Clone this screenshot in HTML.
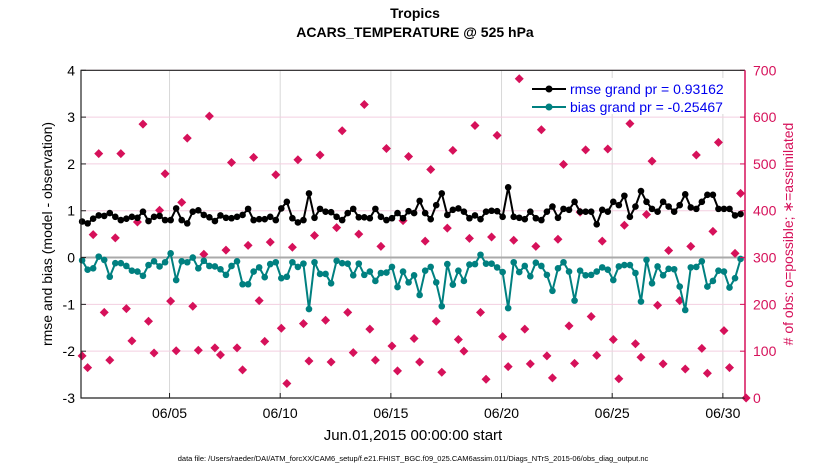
<!DOCTYPE html>
<html><head><meta charset="utf-8">
<style>
body{margin:0;background:#fff;}
svg{display:block;font-family:"Liberation Sans",sans-serif;}
</style></head>
<body>
<svg id="chart" width="830" height="470" viewBox="0 0 830 470" xmlns="http://www.w3.org/2000/svg">
<rect width="830" height="470" fill="#fff"/>
<text x="415" y="18" font-size="14" font-weight="bold" text-anchor="middle">Tropics</text>
<text x="415" y="37" font-size="14" font-weight="bold" text-anchor="middle">ACARS_TEMPERATURE @ 525 hPa</text>
<g id="grid"></g>
<g id="marks"></g>
<g id="axes"></g>
<text transform="translate(52,234) rotate(-90)" font-size="14" text-anchor="middle">rmse and bias (model - observation)</text>
<text transform="translate(793,234) rotate(-90)" font-size="14" text-anchor="middle" fill="#d6115a">#  of obs: o=possible; ∗=assimilated</text>
<text x="413" y="440" font-size="15" text-anchor="middle">Jun.01,2015 00:00:00 start</text>
<text x="413" y="461" font-size="7.5" text-anchor="middle">data file: /Users/raeder/DAI/ATM_forcXX/CAM6_setup/f.e21.FHIST_BGC.f09_025.CAM6assim.011/Diags_NTrS_2015-06/obs_diag_output.nc</text>
<g id="legend">
<rect x="527" y="78" width="216" height="36" fill="#fff"/>
<line x1="532" y1="89" x2="566" y2="89" stroke="#000" stroke-width="2"/>
<circle cx="549" cy="89" r="3.5" fill="#000"/>
<text x="570" y="94" font-size="14" fill="#0000ee">rmse grand pr = 0.93162</text>
<line x1="532" y1="107" x2="566" y2="107" stroke="#008080" stroke-width="2"/>
<circle cx="549" cy="107" r="3.5" fill="#008080"/>
<text x="570" y="112" font-size="14" fill="#0000ee">bias grand pr = -0.25467</text>
</g>
</svg>
<script>
const rmse=[0.77,0.73,0.83,0.90,0.89,0.95,0.87,0.80,0.83,0.87,0.85,0.98,0.78,0.87,0.89,0.80,0.80,1.05,0.80,0.73,0.98,1.01,0.91,0.86,0.78,0.90,0.85,0.84,0.87,0.91,1.04,
0.80,0.82,0.82,0.87,0.80,1.05,1.19,0.84,0.75,0.80,1.37,0.85,1.04,0.98,0.97,0.87,0.80,0.95,1.04,0.86,0.86,0.84,1.04,0.87,0.80,0.84,0.95,0.84,0.99,0.95,
1.21,0.95,0.82,1.12,1.37,0.91,1.02,1.05,0.98,0.84,0.90,0.82,0.98,1.00,0.99,0.87,1.50,0.87,0.85,0.82,0.98,0.84,0.80,0.98,1.09,0.85,1.04,1.02,1.19,0.98,
0.98,0.98,0.71,1.02,0.98,1.19,1.12,1.32,0.87,1.09,1.42,1.19,1.04,0.98,1.19,1.09,0.98,1.12,1.35,1.07,1.04,1.19,1.34,1.34,1.04,1.04,1.04,0.90,0.93];
const bias=[-0.06,-0.26,-0.23,0.02,-0.05,-0.41,-0.12,-0.12,-0.18,-0.28,-0.30,-0.39,-0.16,-0.08,-0.19,-0.10,0.09,-0.48,-0.08,-0.10,0.00,-0.23,-0.07,-0.18,-0.19,-0.25,-0.37,-0.18,-0.08,-0.57,-0.57,
-0.30,-0.21,-0.42,-0.14,-0.10,-0.44,-0.41,-0.10,-0.20,-0.13,-1.10,-0.10,-0.35,-0.35,-0.55,-0.07,-0.12,-0.13,-0.38,-0.13,-0.37,-0.30,-0.50,-0.33,-0.32,-0.20,-0.63,-0.30,-0.53,-0.38,
-0.80,-0.28,-0.20,-0.53,-1.04,-0.14,-0.58,-0.28,-0.50,-0.15,-0.14,0.06,-0.13,-0.13,-0.21,-0.31,-1.08,-0.10,-0.31,-0.18,-0.40,-0.11,-0.18,-0.37,-0.71,-0.23,-0.10,-0.30,-0.92,-0.28,
-0.38,-0.37,-0.30,-0.21,-0.26,-0.48,-0.19,-0.16,-0.16,-0.33,-0.94,-0.05,-0.55,-0.19,-0.38,-0.24,-0.25,-0.62,-1.12,-0.21,-0.20,-0.08,-0.62,-0.50,-0.28,-0.30,-0.64,-0.44,-0.03];
const nobs=[90,65,349,522,183,81,342,522,191,122,376,585,164,96,401,479,207,101,418,555,196,102,307,602,107,92,316,503,107,60,326,
514,208,121,333,477,149,31,322,509,159,79,347,519,166,77,364,571,183,97,350,627,147,81,324,533,111,58,379,516,127,
77,335,488,164,55,363,529,125,100,341,582,183,40,344,561,131,67,337,682,147,73,324,573,90,43,339,499,154,74,397,
530,174,91,335,532,125,41,369,586,116,87,392,506,198,73,315,669,208,62,324,519,106,53,356,546,144,65,309,437,0];
const yTicks=[-3,-2,-1,0,1,2,3,4];
const y2Ticks=[0,100,200,300,400,500,600,700];
const xTickDays=[4,9,14,19,24,29];
const xTickLabels=["06/05","06/10","06/15","06/20","06/25","06/30"];

const L=81,R=745,T=70.3,B=398;
const NS="http://www.w3.org/2000/svg";
const xDay=d=>L+(d/30)*(R-L);
const xIdx=i=>xDay(i*0.25+0.05);
const yL=v=>B-(v+3)/7*(B-T);
const yR=v=>B-v/700*(B-T);
function mk(tag,attrs,parent){const e=document.createElementNS(NS,tag);for(const k in attrs)e.setAttribute(k,attrs[k]);parent.appendChild(e);return e;}
const grid=document.getElementById('grid'),marks=document.getElementById('marks'),axes=document.getElementById('axes');
mk('rect',{x:L,y:T,width:R-L,height:B-T,fill:'#fff'},grid);
xTickDays.forEach((d,i)=>{
  const g=mk('line',{x1:xDay(d),x2:xDay(d),y1:T,y2:B,stroke:'#d8d8d8','stroke-width':1},grid);
  
  
  mk('line',{x1:xDay(d),x2:xDay(d),y1:B,y2:B-5,stroke:'#222'},axes);
  const t=mk('text',{x:xDay(d),y:418,'font-size':14,'text-anchor':'middle'},axes);
  t.textContent=xTickLabels[i];
  
  
});
y2Ticks.forEach(v=>{
  const g=mk('line',{x1:L,x2:R,y1:yR(v),y2:yR(v),stroke:'#f3cfe0','stroke-width':1},grid);
  
  
  mk('line',{x1:R,x2:R-5,y1:yR(v),y2:yR(v),stroke:'#d6115a'},axes);
  const t=mk('text',{x:R+8,y:yR(v)+5,'font-size':14,fill:'#d6115a'},axes);
  t.textContent=v;
  
  
});
yTicks.forEach(v=>{
  mk('line',{x1:L,x2:L+5,y1:yL(v),y2:yL(v),stroke:'#222'},axes);
  const t=mk('text',{x:L-6,y:yL(v)+5,'font-size':14,'text-anchor':'end'},axes);
  t.textContent=v;
  
  
});
const zl=mk('line',{x1:L,x2:R,y1:yL(0),y2:yL(0),stroke:'#aaa','stroke-width':2},grid);


// obs markers
nobs.forEach((v,i)=>{
  const x=xIdx(i),y=yR(v);
  const p=mk('path',{d:`M${x-4.5},${y}L${x},${y-4.5}L${x+4.5},${y}L${x},${y+4.5}Z`,fill:'#d6115a'},marks);
  
  
});
function series(vals,color,name){
  const pts=vals.map((v,i)=>xIdx(i).toFixed(1)+','+yL(v).toFixed(1)).join(' ');
  const pl=mk('polyline',{points:pts,fill:'none',stroke:color,'stroke-width':2},marks);
  
  
  vals.forEach((v,i)=>{
    const c=mk('circle',{cx:xIdx(i),cy:yL(v),r:3.3,fill:color},marks);
    
    
  });
}
series(rmse,'#000','rmse');
series(bias,'#008080','bias');
mk('path',{d:`M${R},${T}L${L},${T}L${L},${B}L${R},${B}`,fill:'none',stroke:'#222','stroke-width':1.2},axes);
mk('line',{x1:R,x2:R,y1:T,y2:B,stroke:'#d6115a','stroke-width':1.5},axes);
</script>
</body></html>
